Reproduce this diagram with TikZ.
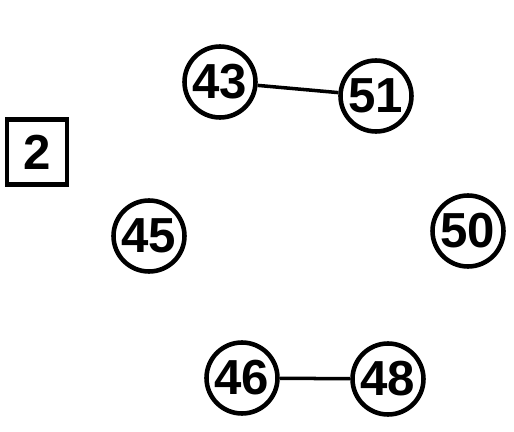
\documentclass[tikz,border=0pt]{standalone}
\usepackage{fontspec}
\setmainfont{Liberation Sans}
\usepackage{tikz}
\tikzset{
	vertex/.style={circle, draw=black, line width=2.6pt, minimum size=1.42cm, inner sep=0pt, font=\fontsize{28}{28}\selectfont\bfseries},
	tag/.style={rectangle, draw=black, line width=2.6pt, minimum width=1.2cm, minimum height=1.3cm, inner sep=0pt, font=\fontsize{28}{28}\selectfont\bfseries},
	link/.style={line width=2pt}
}

\begin{document}
\begin{tikzpicture}[x=0.02cm, y=-0.02cm]
			%%%%% START %%%%%
			\useasboundingbox (0, 0) rectangle (514, 432);
			
			\node[tag] (t2) at (37, 152) {2};
			
			\node[vertex] (v43) at (220, 82) {43};
			\node[vertex] (v51) at (376, 96) {51};
			\node[vertex] (v45) at (149, 236) {45};
			\node[vertex] (v50) at (468, 231) {50};
			\node[vertex] (v46) at (242, 378) {46};
			\node[vertex] (v48) at (388, 379) {48};
			
			\draw[link] (v43) -- (v51);
			\draw[link] (v46) -- (v48);
			%%%%% END %%%%%
\end{tikzpicture}
\end{document}
